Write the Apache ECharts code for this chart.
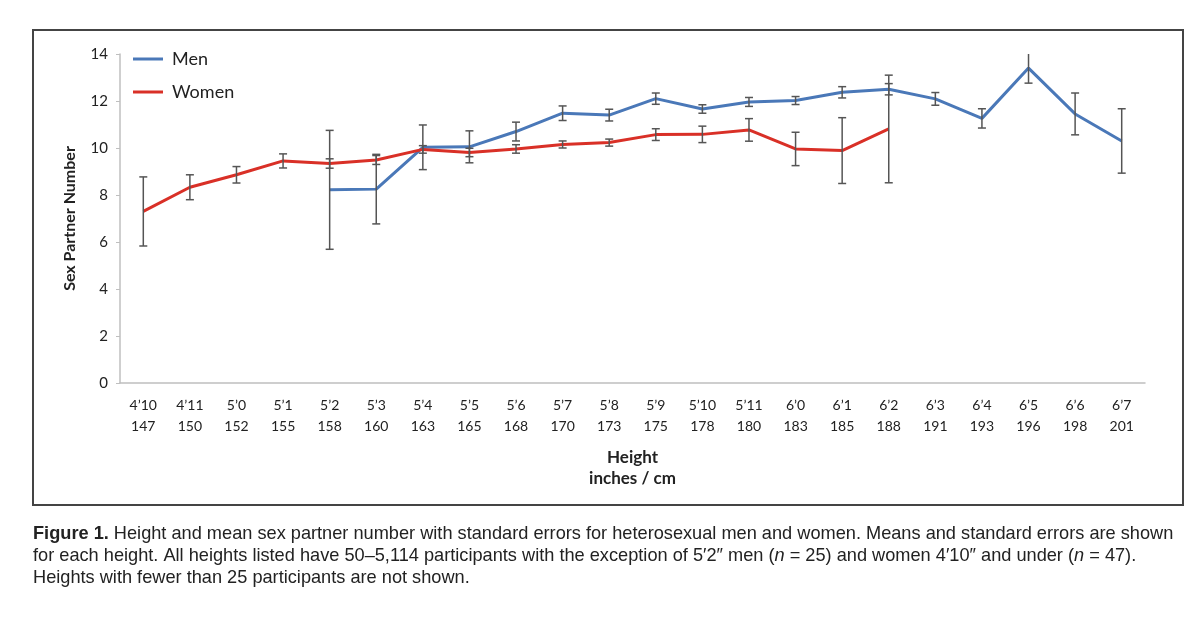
<!DOCTYPE html>
<html>
<head>
<meta charset="utf-8">
<style>
  html, body { margin: 0; padding: 0; background: #fff; }
  #chart { width: 1200px; height: 622px; }
</style>
<script src="https://cdn.jsdelivr.net/npm/echarts@6/dist/echarts.min.js"></script>
</head>
<body>
<div id="chart"></div>
<script>
// height categories (inches / cm)
var heightsIn = ['4’10', '4’11', '5’0', '5’1', '5’2', '5’3', '5’4', '5’5', '5’6', '5’7', '5’8',
  '5’9', '5’10', '5’11', '6’0', '6’1', '6’2', '6’3', '6’4', '6’5', '6’6', '6’7'];
var heightsCm = [147, 150, 152, 155, 158, 160, 163, 165, 168, 170, 173, 175, 178, 180, 183, 185,
  188, 191, 193, 196, 198, 201];

// means and standard errors
var menMean = [null, null, null, null, 8.22, 8.25, 10.03, 10.05, 10.7, 11.48, 11.4, 12.1, 11.66,
  11.96, 12.02, 12.37, 12.5, 12.09, 11.26, 13.4, 11.45, 10.3];
var menSE = [null, null, null, null, 2.53, 1.48, 0.95, 0.68, 0.4, 0.31, 0.25, 0.24, 0.18, 0.19,
  0.17, 0.24, 0.24, 0.27, 0.41, 0.64, 0.89, 1.37];
var womenMean = [7.3, 8.33, 8.86, 9.45, 9.34, 9.49, 9.94, 9.81, 9.96, 10.15, 10.23, 10.57, 10.58,
  10.77, 9.96, 9.89, 10.81, null, null, null, null, null];
var womenSE = [1.47, 0.53, 0.35, 0.3, 0.2, 0.19, 0.16, 0.18, 0.18, 0.15, 0.15, 0.25, 0.35, 0.48,
  0.71, 1.4, 2.29, null, null, null, null, null];

var yMax = 14;

var font = 'Lato';
var capFont = '"Liberation Sans", sans-serif';

// error bar rows [index, low, high]
function errRows(mean, se) {
  var rows = [];
  for (var i = 0; i < mean.length; i++) {
    if (mean[i] == null) continue;
    rows.push([i, mean[i] - se[i], mean[i] + se[i]]);
  }
  return rows;
}

function renderErr(params, api) {
  var i = api.value(0);
  var lo = api.value(1);
  var hi = api.value(2);
  var capTop = hi <= yMax;   // bar cut at the top of the axis has no cap
  if (hi > yMax) hi = yMax;
  var p1 = api.coord([i, lo]);
  var p2 = api.coord([i, hi]);
  var w = 4;
  var style = { stroke: '#555', lineWidth: 1.5 };
  var kids = [
    { type: 'line', shape: { x1: p1[0], y1: p1[1], x2: p2[0], y2: p2[1] }, style: style },
    { type: 'line', shape: { x1: p1[0] - w, y1: p1[1], x2: p1[0] + w, y2: p1[1] }, style: style }
  ];
  if (capTop) {
    kids.push({ type: 'line', shape: { x1: p2[0] - w, y1: p2[1], x2: p2[0] + w, y2: p2[1] }, style: style });
  }
  return { type: 'group', children: kids };
}

var option = {
  animation: false,
  textStyle: { fontFamily: font },
  legend: {
    data: [{ name: 'Men', icon: 'rect' }, { name: 'Women', icon: 'rect' }],
    orient: 'vertical',
    left: 128,
    top: 45,
    itemWidth: 30,
    itemHeight: 3,
    itemGap: 15,
    textStyle: { fontSize: 18, color: '#222', fontFamily: font, padding: [0, 0, 0, 4] }
  },
  grid: { left: 120, right: 55, top: 54, bottom: 239 },
  xAxis: {
    type: 'category',
    data: heightsIn.map(function (h, i) { return h + '\n' + heightsCm[i]; }),
    boundaryGap: true,
    axisLine: { lineStyle: { color: '#bfbfbf', width: 1.5 } },
    axisTick: { show: false },
    axisLabel: { color: '#222', fontSize: 14, lineHeight: 21, margin: 12, interval: 0 },
    name: 'Height\ninches / cm',
    nameLocation: 'middle',
    nameGap: 64,
    nameTextStyle: { fontSize: 17, fontWeight: 'bold', color: '#222', lineHeight: 21 }
  },
  yAxis: {
    type: 'value',
    min: 0,
    max: yMax,
    interval: 2,
    axisLine: { show: true, lineStyle: { color: '#bfbfbf', width: 1.5 } },
    axisTick: { show: true, length: 4, lineStyle: { color: '#bfbfbf' } },
    splitLine: { show: false },
    axisLabel: { color: '#222', fontSize: 15, margin: 12 },
    name: 'Sex Partner Number',
    nameLocation: 'middle',
    nameGap: 42,
    nameTextStyle: { fontSize: 16, fontWeight: 'bold', color: '#222' }
  },
  series: [
    {
      name: 'Men',
      type: 'line',
      data: menMean,
      symbol: 'none',
      connectNulls: false,
      lineStyle: { color: '#4a78b8', width: 3 },
      itemStyle: { color: '#4a78b8' },
      z: 2
    },
    {
      name: 'Women',
      type: 'line',
      data: womenMean,
      symbol: 'none',
      connectNulls: false,
      lineStyle: { color: '#d93027', width: 3 },
      itemStyle: { color: '#d93027' },
      z: 2
    },
    {
      name: 'menErr',
      type: 'custom',
      renderItem: renderErr,
      data: errRows(menMean, menSE),
      encode: { x: 0, y: [1, 2] },
      z: 3
    },
    {
      name: 'womenErr',
      type: 'custom',
      renderItem: renderErr,
      data: errRows(womenMean, womenSE),
      encode: { x: 0, y: [1, 2] },
      z: 3
    }
  ],
  graphic: [
    {
      type: 'rect',
      shape: { x: 33, y: 30, width: 1150, height: 475 },
      style: { fill: 'none', stroke: '#444', lineWidth: 2 },
      silent: true
    },
    {
      type: 'text',
      left: 33,
      top: 523,
      style: {
        text: '{b|Figure 1.} Height and mean sex partner number with standard errors for heterosexual men and women. Means and standard errors are shown\n' +
          'for each height. All heights listed have 50–5,114 participants with the exception of 5′2″ men ({i|n} = 25) and women 4′10″ and under ({i|n} = 47).\n' +
          'Heights with fewer than 25 participants are not shown.',
        font: '18.2px ' + capFont,
        fill: '#222',
        lineHeight: 22,
        rich: {
          b: { fontWeight: 'bold', fontSize: 18.2, fontFamily: capFont, lineHeight: 22 },
          i: { fontStyle: 'italic', fontSize: 18.2, fontFamily: capFont, lineHeight: 22 }
        }
      }
    }
  ]
};

var myChart = echarts.init(document.getElementById('chart'));
myChart.setOption(option);
</script>
</body>
</html>
